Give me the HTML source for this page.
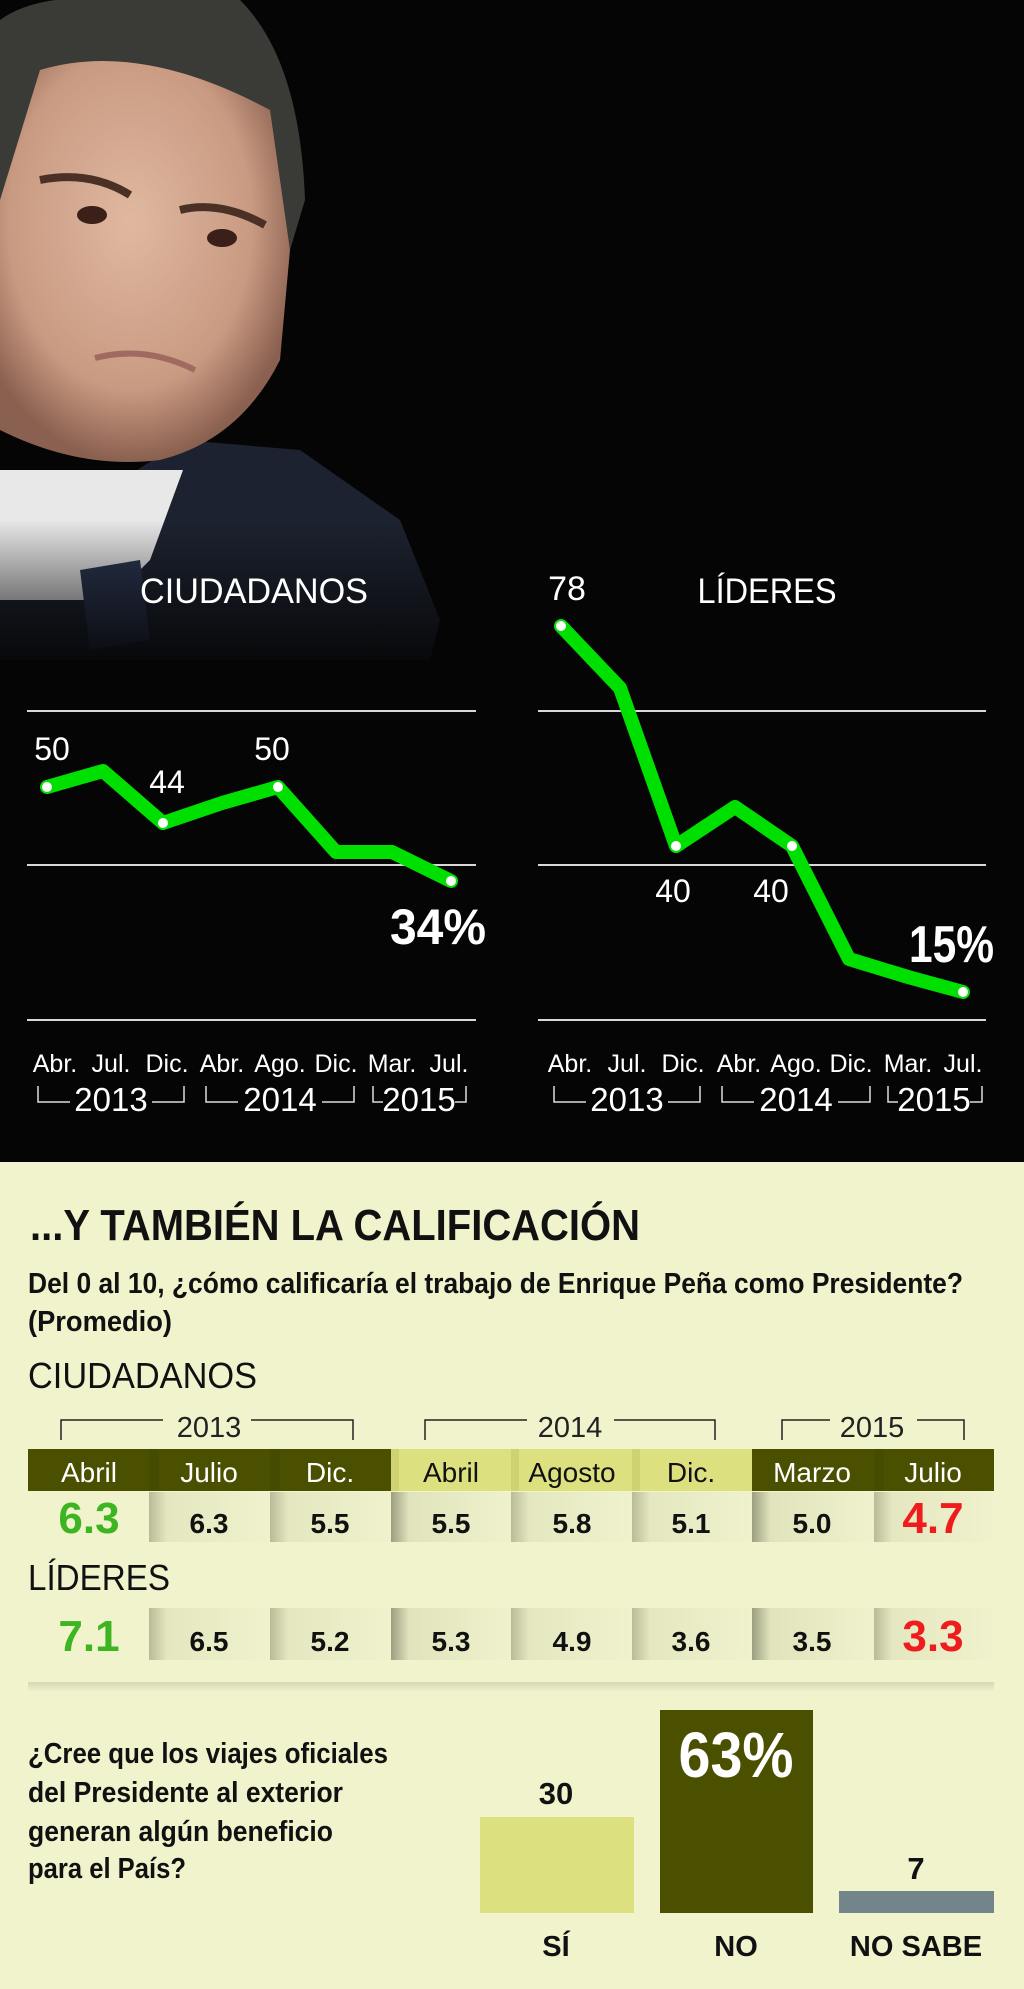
<!DOCTYPE html>
<html><head><meta charset="utf-8"><style>
html,body{margin:0;padding:0;background:#050505}
svg{display:block}
text{font-family:"Liberation Sans Narrow","Liberation Sans",sans-serif}
</style></head><body>
<svg width="1024" height="1989" viewBox="0 0 1024 1989" xmlns="http://www.w3.org/2000/svg">
<defs>
<radialGradient id="skin" cx="0.45" cy="0.4" r="0.6">
<stop offset="0" stop-color="#e0b8a0"/><stop offset="0.7" stop-color="#c99a82"/><stop offset="1" stop-color="#8a6050"/>
</radialGradient>
<linearGradient id="fade" x1="0" y1="0" x2="0" y2="1">
<stop offset="0" stop-color="#050505" stop-opacity="0"/><stop offset="1" stop-color="#050505" stop-opacity="1"/>
</linearGradient>
<linearGradient id="sh" x1="0" y1="0" x2="1" y2="0">
<stop offset="0" stop-color="#b9bb98"/><stop offset="0.15" stop-color="#e4e7c0"/><stop offset="1" stop-color="#eff2cc"/>
</linearGradient>
<linearGradient id="sh2" x1="0" y1="0" x2="1" y2="0">
<stop offset="0" stop-color="#9c9e80"/><stop offset="0.15" stop-color="#e0e3bc"/><stop offset="1" stop-color="#eff2cc"/>
</linearGradient>
<linearGradient id="sep" x1="0" y1="0" x2="0" y2="1">
<stop offset="0" stop-color="#d6d8b6"/><stop offset="1" stop-color="#f0f3cc"/>
</linearGradient>
</defs>
<rect x="0" y="0" width="1024" height="1162" fill="#050505"/>
<!-- photo approximation -->
<path d="M183 440 L300 450 L400 520 L440 620 L430 660 L0 660 L0 560 Z" fill="#1c2230"/>
<path d="M0 470 L183 470 L150 560 L110 600 L0 600 Z" fill="#e8e8e8"/>
<path d="M80 570 L140 560 L150 640 L90 650 Z" fill="#2a3550"/>
<path d="M0 20 Q40 -10 140 0 L240 0 Q300 60 305 200 L290 250 L270 120 Q200 70 60 90 L0 200 Z" fill="#3a3a36"/>
<path d="M0 200 L40 70 Q140 40 270 110 L290 250 L280 360 Q240 440 160 460 Q80 470 0 430 Z" fill="url(#skin)"/>
<path d="M40 180 Q90 170 130 195" stroke="#4a3025" stroke-width="8" fill="none"/>
<path d="M180 210 Q220 200 265 225" stroke="#4a3025" stroke-width="8" fill="none"/>
<ellipse cx="92" cy="215" rx="15" ry="9" fill="#3a2018"/>
<ellipse cx="222" cy="238" rx="15" ry="9" fill="#3a2018"/>
<path d="M95 358 Q145 345 195 370" stroke="#a06a60" stroke-width="6" fill="none"/>
<rect x="0" y="520" width="520" height="160" fill="url(#fade)"/>

<!-- grid -->
<g stroke="#d8d8d8" stroke-width="2">
<line x1="27" y1="711" x2="476" y2="711"/><line x1="27" y1="865" x2="476" y2="865"/><line x1="27" y1="1020" x2="476" y2="1020"/>
<line x1="538" y1="711" x2="986" y2="711"/><line x1="538" y1="865" x2="986" y2="865"/><line x1="538" y1="1020" x2="986" y2="1020"/>
</g>
<g fill="#fff">
<text x="254" y="603" font-size="35" text-anchor="middle" textLength="228" lengthAdjust="spacingAndGlyphs">CIUDADANOS</text>
<text x="767" y="603" font-size="35" text-anchor="middle" textLength="139" lengthAdjust="spacingAndGlyphs">LÍDERES</text>
<text x="567" y="600" font-size="34" text-anchor="middle">78</text>
<text x="52" y="760" font-size="32" text-anchor="middle">50</text>
<text x="167" y="793" font-size="32" text-anchor="middle">44</text>
<text x="272" y="760" font-size="32" text-anchor="middle">50</text>
<text x="673" y="902" font-size="32" text-anchor="middle">40</text>
<text x="771" y="902" font-size="32" text-anchor="middle">40</text>
<text x="390" y="944" font-size="50" font-weight="bold" textLength="96" lengthAdjust="spacingAndGlyphs">34%</text>
<text x="909" y="962" font-size="52" font-weight="bold" textLength="85" lengthAdjust="spacingAndGlyphs">15%</text>
</g>
<g fill="none" stroke="#00e000" stroke-width="14" stroke-linejoin="round" stroke-linecap="round">
<polyline points="47,787 103,771 163,823 222,803 278,787 336,852 392,852 451,881"/>
<polyline points="561,626 620,688 676,846 735,807 792,846 849,959 908,977 963,992"/>
</g>
<g fill="#fff">
<circle cx="47" cy="787" r="5"/><circle cx="163" cy="823" r="5"/><circle cx="278" cy="787" r="5"/><circle cx="451" cy="881" r="5"/>
<circle cx="561" cy="626" r="5"/><circle cx="676" cy="846" r="5"/><circle cx="792" cy="846" r="5"/><circle cx="963" cy="992" r="5"/>
</g>
<g fill="#fff" font-size="25" text-anchor="middle">
<text x="55" y="1072">Abr.</text><text x="111" y="1072">Jul.</text><text x="167" y="1072">Dic.</text><text x="222" y="1072">Abr.</text><text x="280" y="1072">Ago.</text><text x="336" y="1072">Dic.</text><text x="392" y="1072">Mar.</text><text x="449" y="1072">Jul.</text>
<text x="570" y="1072">Abr.</text><text x="627" y="1072">Jul.</text><text x="683" y="1072">Dic.</text><text x="739" y="1072">Abr.</text><text x="796" y="1072">Ago.</text><text x="851" y="1072">Dic.</text><text x="908" y="1072">Mar.</text><text x="963" y="1072">Jul.</text>
</g>
<g fill="#fff" font-size="33" text-anchor="middle">
<text x="111" y="1111">2013</text><text x="280" y="1111">2014</text><text x="419" y="1111">2015</text>
<text x="627" y="1111">2013</text><text x="796" y="1111">2014</text><text x="934" y="1111">2015</text>
</g>
<g stroke="#ddd" stroke-width="1.5" fill="none">
<polyline points="38,1086 38,1102 70,1102"/><polyline points="152,1102 184,1102 184,1086"/>
<polyline points="206,1086 206,1102 238,1102"/><polyline points="322,1102 354,1102 354,1086"/>
<polyline points="373,1086 373,1102 383,1102"/><polyline points="455,1102 466,1102 466,1086"/>
<polyline points="554,1086 554,1102 586,1102"/><polyline points="668,1102 700,1102 700,1086"/>
<polyline points="722,1086 722,1102 754,1102"/><polyline points="838,1102 870,1102 870,1086"/>
<polyline points="888,1086 888,1102 898,1102"/><polyline points="970,1102 982,1102 982,1086"/>
</g>

<!-- lower section -->
<rect x="0" y="1162" width="1024" height="827" fill="#f0f3cc"/>
<text x="30" y="1240" font-size="44" font-weight="bold" fill="#111" textLength="610" lengthAdjust="spacingAndGlyphs">...Y TAMBIÉN LA CALIFICACIÓN</text>
<text x="28" y="1293" font-size="29" font-weight="bold" fill="#111" textLength="935" lengthAdjust="spacingAndGlyphs">Del 0 al 10, ¿cómo calificaría el trabajo de Enrique Peña como Presidente?</text>
<text x="28" y="1331" font-size="29" font-weight="bold" fill="#111" textLength="144" lengthAdjust="spacingAndGlyphs">(Promedio)</text>
<text x="28" y="1388" font-size="36" fill="#111" textLength="229" lengthAdjust="spacingAndGlyphs">CIUDADANOS</text>
<g stroke="#222" stroke-width="1.5" fill="none">
<polyline points="61,1440 61,1420 163,1420"/><polyline points="251,1420 353,1420 353,1440"/>
<polyline points="425,1440 425,1420 527,1420"/><polyline points="614,1420 715,1420 715,1440"/>
<polyline points="782,1440 782,1420 830,1420"/><polyline points="917,1420 964,1420 964,1440"/>
</g>
<g fill="#222" font-size="29" text-anchor="middle">
<text x="209" y="1437">2013</text><text x="570" y="1437">2014</text><text x="872" y="1437">2015</text>
</g>
<rect x="28" y="1449" width="363" height="42" fill="#4a5000"/>
<rect x="391" y="1449" width="361" height="42" fill="#dde07e"/>
<rect x="752" y="1449" width="242" height="42" fill="#4a5000"/>
<g fill="#3f4500"><rect x="149" y="1449" width="10" height="42" opacity="0.5"/><rect x="270" y="1449" width="10" height="42" opacity="0.5"/><rect x="874" y="1449" width="10" height="42" opacity="0.5"/></g>
<g fill="#cfd270"><rect x="391" y="1449" width="8" height="42"/><rect x="511" y="1449" width="8" height="42"/><rect x="632" y="1449" width="8" height="42"/></g>
<g font-size="28" text-anchor="middle">
<text x="89" y="1482" fill="#fff">Abril</text><text x="209" y="1482" fill="#fff">Julio</text><text x="330" y="1482" fill="#fff">Dic.</text>
<text x="451" y="1482" fill="#111">Abril</text><text x="572" y="1482" fill="#111">Agosto</text><text x="691" y="1482" fill="#111">Dic.</text>
<text x="812" y="1482" fill="#fff">Marzo</text><text x="933" y="1482" fill="#fff">Julio</text>
</g>
<g>
<rect x="149" y="1492" width="121" height="50" fill="url(#sh)"/><rect x="270" y="1492" width="121" height="50" fill="url(#sh)"/>
<rect x="391" y="1492" width="120" height="50" fill="url(#sh2)"/><rect x="511" y="1492" width="121" height="50" fill="url(#sh)"/>
<rect x="632" y="1492" width="120" height="50" fill="url(#sh)"/><rect x="752" y="1492" width="122" height="50" fill="url(#sh2)"/>
<rect x="874" y="1492" width="120" height="50" fill="url(#sh)"/>
<rect x="149" y="1608" width="121" height="52" fill="url(#sh)"/><rect x="270" y="1608" width="121" height="52" fill="url(#sh)"/>
<rect x="391" y="1608" width="120" height="52" fill="url(#sh2)"/><rect x="511" y="1608" width="121" height="52" fill="url(#sh)"/>
<rect x="632" y="1608" width="120" height="52" fill="url(#sh)"/><rect x="752" y="1608" width="122" height="52" fill="url(#sh2)"/>
<rect x="874" y="1608" width="120" height="52" fill="url(#sh)"/>
</g>
<g font-size="28" font-weight="bold" fill="#111" text-anchor="middle">
<text x="209" y="1533">6.3</text><text x="330" y="1533">5.5</text><text x="451" y="1533">5.5</text><text x="572" y="1533">5.8</text><text x="691" y="1533">5.1</text><text x="812" y="1533">5.0</text>
<text x="209" y="1651">6.5</text><text x="330" y="1651">5.2</text><text x="451" y="1651">5.3</text><text x="572" y="1651">4.9</text><text x="691" y="1651">3.6</text><text x="812" y="1651">3.5</text>
</g>
<g font-size="44" font-weight="bold" text-anchor="middle">
<text x="89" y="1533" fill="#3cb520">6.3</text><text x="933" y="1533" fill="#ee1c1c">4.7</text>
<text x="89" y="1651" fill="#3cb520">7.1</text><text x="933" y="1651" fill="#ee1c1c">3.3</text>
</g>
<text x="28" y="1590" font-size="36" fill="#111" textLength="142" lengthAdjust="spacingAndGlyphs">LÍDERES</text>
<rect x="28" y="1682" width="966" height="10" fill="url(#sep)"/>
<g font-size="29" font-weight="bold" fill="#111">
<text x="28" y="1763" textLength="360" lengthAdjust="spacingAndGlyphs">¿Cree que los viajes oficiales</text>
<text x="28" y="1802" textLength="315" lengthAdjust="spacingAndGlyphs">del Presidente al exterior</text>
<text x="28" y="1841" textLength="305" lengthAdjust="spacingAndGlyphs">generan algún beneficio</text>
<text x="28" y="1878" textLength="158" lengthAdjust="spacingAndGlyphs">para el País?</text>
</g>
<rect x="480" y="1817" width="154" height="96" fill="#dde07e"/>
<rect x="660" y="1710" width="153" height="203" fill="#4a5000"/>
<rect x="839" y="1891" width="155" height="22" fill="#72858a"/>
<text x="556" y="1804" font-size="31" font-weight="bold" fill="#111" text-anchor="middle">30</text>
<text x="916" y="1879" font-size="31" font-weight="bold" fill="#111" text-anchor="middle">7</text>
<text x="736" y="1777" font-size="64" font-weight="bold" fill="#fff" text-anchor="middle" textLength="115" lengthAdjust="spacingAndGlyphs">63%</text>
<g font-size="29" font-weight="bold" fill="#111" text-anchor="middle">
<text x="556" y="1956">SÍ</text><text x="736" y="1956">NO</text><text x="916" y="1956">NO SABE</text>
</g>
</svg>
</body></html>
